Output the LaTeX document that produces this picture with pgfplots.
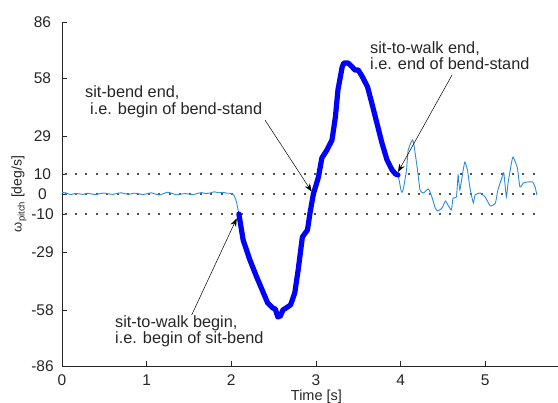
\documentclass[border=0pt]{standalone}
\usepackage{fontspec}
\setmainfont{Liberation Sans}
\usepackage{pgfplots}
\pgfplotsset{compat=1.18}
\usetikzlibrary{arrows.meta}
\definecolor{thinblue}{RGB}{45,140,218}
\definecolor{axgray}{RGB}{38,38,38}
\definecolor{dotgray}{RGB}{80,80,80}
\begin{document}
\begin{tikzpicture}
\useasboundingbox (-62pt,-37pt) rectangle (496pt,366pt);
\begin{axis}[
  at={(0,0)}, anchor=south west,
  scale only axis,
  width=496pt, height=344pt,
  xmin=0, xmax=5.86, ymin=-86, ymax=86,
  axis x line*=bottom, axis y line*=left,
  axis line style={axgray, line width=0.7pt, -},
  tick style={axgray, line width=0.7pt},
  tick align=inside,
  major tick length=5pt,
  xtick={0,1,2,3,4,5},
  xticklabels={0,1,2,3,4,5},
  ytick={-86,-58,-29,-10,0,10,29,58,86},
  yticklabels={-86,-58,-29,-10,0,10,29,58,86},
  xticklabel style={font=\fontsize{15.5}{18}\selectfont, text=axgray, anchor=north, inner sep=0pt, yshift=-8.5pt},
  yticklabel style={font=\fontsize{15.5}{18}\selectfont, text=axgray, anchor=center, inner sep=0pt, xshift=-19.5pt},
  xlabel={Time [s]},
  xlabel style={font=\fontsize{14.5}{17}\selectfont, text=axgray, at={(axis description cs:0.513,-0.1000)}, anchor=base, inner sep=0pt},
  ylabel={{\fontsize{13}{15}\selectfont ω}\raisebox{-3pt}{\fontsize{9.5}{11}\selectfont pitch} [deg/s]},
  ylabel style={font=\fontsize{14}{17}\selectfont, text=axgray, at={(axis description cs:-0.0815,0.5)}, rotate=0, anchor=base, inner sep=0pt},
  clip=false,
]
% dotted thresholds
\addplot[dotgray, line width=2pt, dash pattern=on 2pt off 8.4pt] coordinates {(0.03,10) (5.61,10)};
\addplot[dotgray, line width=2pt, dash pattern=on 2pt off 8.4pt] coordinates {(0.03,0) (5.61,0)};
\addplot[dotgray, line width=2pt, dash pattern=on 2pt off 8.4pt] coordinates {(0.03,-10) (5.61,-10)};
% thin full signal
\addplot[thinblue, line width=0.9pt, smooth, tension=0.3] coordinates {
(0.00,0.8) (0.05,0.5) (0.10,-0.3) (0.15,0.2) (0.20,0.1) (0.25,-0.2) (0.30,0.3) (0.35,0.0)
(0.40,-0.3) (0.45,0.2) (0.50,0.5) (0.55,0.1) (0.60,-0.2) (0.65,0.3) (0.70,0.6) (0.75,0.1)
(0.80,-0.1) (0.85,0.4) (0.90,0.2) (0.95,-0.3) (1.00,0.1) (1.05,0.6) (1.10,0.0) (1.15,-0.5)
(1.20,0.2) (1.25,0.9) (1.30,0.3) (1.35,-0.4) (1.40,-0.1) (1.45,0.2) (1.50,0.0) (1.55,-0.3)
(1.60,0.3) (1.65,0.7) (1.70,0.2) (1.75,0.5) (1.80,1.1) (1.85,0.6) (1.90,0.8) (1.95,0.4)
(2.00,0.3) (2.03,-0.5) (2.06,-3.8) (2.09,-10)
(2.14,-23) (2.22,-33) (2.30,-41.5) (2.38,-49.5) (2.43,-54.5) (2.49,-57) (2.55,-61.5) (2.61,-58)
(2.70,-55.5) (2.75,-49.5) (2.79,-38) (2.84,-21.5) (2.90,-18) (2.93,-9.5) (2.97,0) (3.03,8.5)
(3.07,18) (3.13,22) (3.19,27) (3.23,38.5) (3.26,52) (3.31,63.5) (3.33,65.5) (3.38,65.5)
(3.43,63.5) (3.46,62) (3.50,62) (3.55,58.5) (3.61,53.5) (3.66,45.5) (3.72,35.5) (3.78,25.5)
(3.84,17) (3.90,12) (3.94,10) (3.97,9.5)
(4.01,1) (4.03,2) (4.07,12) (4.09,22) (4.14,27) (4.16,24) (4.20,12) (4.23,2)
(4.27,0.5) (4.33,2.5) (4.37,-1.5) (4.41,-7) (4.44,-8.5) (4.49,-7) (4.53,-3.5) (4.56,-5.5)
(4.60,-8) (4.62,-2) (4.66,-1.5) (4.68,9.5) (4.70,2) (4.74,12) (4.76,16) (4.79,12)
(4.82,3) (4.86,-4.5) (4.88,-0.5) (4.94,0.5) (5.00,-1.5) (5.06,-6) (5.12,-4.5) (5.15,2)
(5.20,8.5) (5.22,10.5) (5.25,-1.5) (5.27,5.5) (5.31,15.5) (5.33,18.5) (5.38,13) (5.41,3.5)
(5.45,5.5) (5.50,6) (5.56,6) (5.59,3.5) (5.61,-0.5)
};
% thick sit-to-walk segment
\addplot[blue, line width=5.2pt, line cap=round, line join=round] coordinates {
(2.09,-10) (2.14,-23) (2.22,-33) (2.30,-41.5) (2.38,-49.5) (2.43,-54.5) (2.49,-57) (2.52,-57.5)
(2.55,-61.5) (2.58,-61) (2.61,-58) (2.70,-55.5) (2.75,-49.5) (2.79,-38) (2.84,-21.5) (2.90,-18)
(2.93,-9.5) (2.97,0) (3.03,8.5) (3.07,18) (3.13,22) (3.19,27) (3.23,38.5) (3.26,52)
(3.31,63.5) (3.33,65.5) (3.38,65.5) (3.43,63.5) (3.46,62) (3.50,62) (3.55,58.5) (3.61,53.5)
(3.66,45.5) (3.72,35.5) (3.78,25.5) (3.84,17) (3.90,12) (3.94,10) (3.97,9.5)
};
% annotations
\draw[black, line width=0.5pt, -{Stealth[length=8pt,width=6pt]}] (axis cs:2.398,37) -- (axis cs:2.95,1.2);
\draw[black, line width=0.5pt, -{Stealth[length=8pt,width=6pt]}] (axis cs:4.608,59.5) -- (axis cs:3.97,11);
\draw[black, line width=0.5pt, -{Stealth[length=8pt,width=6pt]}] (axis cs:1.532,-60.5) -- (axis cs:2.064,-12.2);
\begin{scope}[every node/.style={font=\fontsize{16.3}{19}\selectfont, text=black!85, inner sep=0pt, anchor=base west}]
\node at (axis cs:0.272,48) {sit-bend end,};
\node at (axis cs:0.331,39.5) {i.e. begin of bend-stand};
\node at (axis cs:3.639,70) {sit-to-walk end,};
\node at (axis cs:3.639,62) {i.e. end of bend-stand};
\node at (axis cs:0.626,-67) {sit-to-walk begin,};
\node at (axis cs:0.626,-75) {i.e. begin of sit-bend};
\end{scope}
\end{axis}
\end{tikzpicture}
\end{document}
